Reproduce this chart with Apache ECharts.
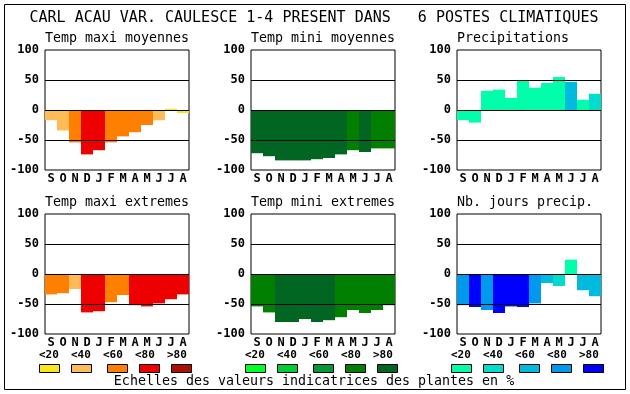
<!DOCTYPE html>
<html>
<head>
<meta charset="utf-8">
<script src="https://cdn.jsdelivr.net/npm/echarts@6/dist/echarts.min.js"></script>
<style>html,body{margin:0;padding:0;background:#fff;}#c{width:630px;height:394px;}</style>
</head>
<body>
<div id="c"></div>
<script>
// ---- data ----
const months = ['S','O','N','D','J','F','M','A','M','J','J','A'];
const yTicks = [-100, -50, 0, 50, 100];
const scaleLabels = ['<20','<40','<60','<80','>80'];
const tempColors = ['#FAE61A','#FFBB55','#FF8000','#EE0000','#AA1100'];
const greenColors = ['#00FF22','#00CC33','#009933','#007F00','#006622'];
const blueColors = ['#00FFAA','#00DDCC','#00BBDD','#0099EE','#0000FF'];

const titles = ['Temp maxi moyennes','Temp mini moyennes','Precipitations','Temp maxi extremes','Temp mini extremes','Nb. jours precip.'];
const tmaxMoy = [-17,-34,-54,-74,-67,-54,-44,-37,-25,-17,2,-5];
const tmaxMoyCls = [1,1,2,3,3,2,2,2,2,1,0,0];
const tminMoy = [-72,-77,-84,-84,-84,-82,-80,-74,-67,-70,-64,-64];
const tminMoyCls = [4,4,4,4,4,4,4,4,3,4,3,3];
const precip = [-17,-21,32,34,20,49,37,45,55,47,17,27];
const precipCls = [0,0,0,0,0,0,0,0,0,2,0,1];
const tmaxExt = [-34,-32,-25,-64,-62,-47,-35,-52,-54,-49,-42,-34];
const tmaxExtCls = [2,2,1,3,3,2,2,3,3,3,3,3];
const tminExt = [-54,-64,-80,-80,-75,-80,-77,-72,-60,-65,-60,-52];
const tminExtCls = [3,3,4,4,4,4,4,3,3,3,3,3];
const nbJours = [-52,-55,-60,-65,-54,-55,-49,-15,-20,24,-27,-37];
const nbJoursCls = [3,4,3,4,4,4,3,2,1,0,2,2];

const mainTitle = 'CARL ACAU VAR. CAULESCE 1-4 PRESENT DANS   6 POSTES CLIMATIQUES';
const footer = 'Echelles des valeurs indicatrices des plantes en %';

// ---- layout ----
const panels = [
  {vals: tmaxMoy, cls: tmaxMoyCls, pal: tempColors},
  {vals: tminMoy, cls: tminMoyCls, pal: greenColors},
  {vals: precip, cls: precipCls, pal: blueColors},
  {vals: tmaxExt, cls: tmaxExtCls, pal: tempColors},
  {vals: tminExt, cls: tminExtCls, pal: greenColors},
  {vals: nbJours, cls: nbJoursCls, pal: blueColors}
];
const lefts = [45, 251, 457];
const tops = [50, 214];
const mono = '"DejaVu Sans Mono", "Liberation Mono", monospace';

const grids = [], xAxes = [], yAxes = [], series = [], graphics = [];
panels.forEach((p, i) => {
  const L = lefts[i % 3], T = tops[Math.floor(i / 3)];
  grids.push({left: L, top: T, width: 144, height: 120, show: true, borderColor: '#000', borderWidth: 1, backgroundColor: 'transparent'});
  xAxes.push({type: 'category', gridIndex: i, data: months, boundaryGap: true,
    axisLine: {show: false}, axisTick: {show: false},
    axisLabel: {interval: 0, color: '#000', fontFamily: mono, fontWeight: 'bold', fontSize: 12, margin: 3}});
  yAxes.push({type: 'value', gridIndex: i, min: yTicks[0], max: yTicks[yTicks.length - 1], interval: 50,
    axisLine: {show: false}, axisTick: {show: false}, splitLine: {show: false},
    axisLabel: {color: '#000', fontFamily: mono, fontWeight: 'bold', fontSize: 12, margin: 6}});
  series.push({type: 'bar', xAxisIndex: i, yAxisIndex: i, barWidth: '100%', barCategoryGap: '0%', z: 2,
    animation: false,
    data: p.vals.map((v, k) => ({value: v, itemStyle: {color: p.pal[p.cls[k]]}})),
    markLine: {silent: true, animation: false, symbol: ['none', 'none'], label: {show: false},
      lineStyle: {color: '#000', type: 'solid', width: 1},
      data: [{yAxis: -50}, {yAxis: 0}, {yAxis: 50}]}});
  graphics.push({type: 'text', x: L, y: T - 11, style: {text: titles[i], font: '13.3px ' + mono, fill: '#000', textAlign: 'left', textVerticalAlign: 'middle'}});
});

// outer frame
graphics.push({type: 'rect', shape: {x: 4.5, y: 4.5, width: 621, height: 385}, style: {fill: null, stroke: '#000', lineWidth: 1}, z: 0});
graphics.push({type: 'text', x: 314, y: 18, style: {text: mainTitle, font: '15px ' + mono, fill: '#000', textAlign: 'center', textVerticalAlign: 'middle'}});
graphics.push({type: 'text', x: 314, y: 382, style: {text: footer, font: '13.3px ' + mono, fill: '#000', textAlign: 'center', textVerticalAlign: 'middle'}});

// scale legends
const boxX = [[39,71,107,139,171],[245,277,313,345,377],[451,483,519,551,583]];
const labX = [[39,71,103,135,167],[245,277,309,341,373],[451,483,515,547,579]];
const pals = [tempColors, greenColors, blueColors];
for (let g = 0; g < 3; g++) {
  for (let k = 0; k < 5; k++) {
    graphics.push({type: 'rect', shape: {x: boxX[g][k] + 0.5, y: 364.5, width: 20, height: 8}, style: {fill: pals[g][k], stroke: '#000', lineWidth: 1}});
    graphics.push({type: 'text', x: labX[g][k], y: 355, style: {text: scaleLabels[k], font: 'bold 11px ' + mono, fill: '#000', textAlign: 'left', textVerticalAlign: 'middle'}});
  }
}

const chart = echarts.init(document.getElementById('c'), null, {renderer: 'canvas'});
chart.setOption({
  animation: false,
  backgroundColor: '#fff',
  grid: grids, xAxis: xAxes, yAxis: yAxes, series: series, graphic: graphics
});
</script>
</body>
</html>
